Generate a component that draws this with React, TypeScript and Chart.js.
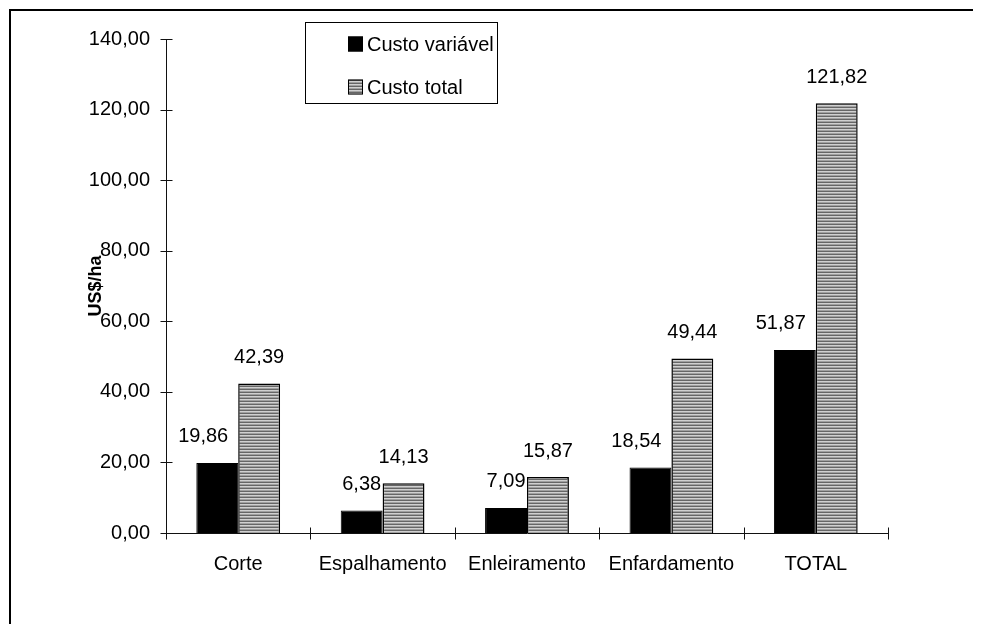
import { useEffect, useRef } from "react";
import { Chart, registerables } from "chart.js";

Chart.register(...registerables);

const categories = ["Corte", "Espalhamento", "Enleiramento", "Enfardamento", "TOTAL"];
const seriesNames = ["Custo variável", "Custo total"];
const custoVariavel = [19.86, 6.38, 7.09, 18.54, 51.87];
const custoTotal = [42.39, 14.13, 15.87, 49.44, 121.82];
const yMin = 0;
const yMax = 140;
const yStep = 20;
const yTitle = "US$/ha";

const FONT = "'Liberation Sans', Arial, Helvetica, sans-serif";
const FONT_SIZE = 20;

const fmt = (v: number) => v.toFixed(2).replace(".", ",");

function stripePattern(ctx: CanvasRenderingContext2D): CanvasPattern {
  const c = document.createElement("canvas");
  c.width = 4;
  c.height = 3;
  const g = c.getContext("2d")!;
  const rows = ["#666666", "#d0d0d0", "#a0a0a0"];
  rows.forEach((col, i) => {
    g.fillStyle = col;
    g.fillRect(0, i, 4, 1);
  });
  return ctx.createPattern(c, "repeat")!;
}

// outer frame (top and left edges of the figure box)
const framePlugin = {
  id: "frame",
  afterDraw(chart: any) {
    const { ctx, width, height } = chart;
    ctx.save();
    ctx.fillStyle = "#000";
    ctx.fillRect(1, 1, width - 1, 2);
    ctx.fillRect(1, 1, 2, height - 1);
    ctx.restore();
  },
};

// axis lines with ticks crossing both sides
const axesPlugin = {
  id: "crossAxes",
  afterDatasetsDraw(chart: any) {
    const { ctx, chartArea } = chart;
    const x = chart.scales.x;
    const y = chart.scales.y;
    const L = 6;
    ctx.save();
    ctx.strokeStyle = "#111";
    ctx.lineWidth = 1;
    ctx.beginPath();
    const ax = Math.round(chartArea.left) + 0.5;
    const ay = Math.round(y.getPixelForValue(0)) + 0.5;
    ctx.moveTo(ax, Math.round(chartArea.top));
    ctx.lineTo(ax, ay);
    ctx.moveTo(ax, ay);
    ctx.lineTo(Math.round(chartArea.right) + 0.5, ay);
    for (let v = yMin; v <= yMax; v += yStep) {
      const py = Math.round(y.getPixelForValue(v)) + 0.5;
      ctx.moveTo(ax - L, py);
      ctx.lineTo(ax + L, py);
    }
    const n = categories.length;
    for (let i = 0; i <= n; i++) {
      const px = Math.round(x.left + ((x.right - x.left) * i) / n) + 0.5;
      ctx.moveTo(px, ay - L);
      ctx.lineTo(px, ay + L);
    }
    ctx.stroke();
    ctx.restore();
  },
};

// value labels above each bar, nudged left when they would touch the neighbouring bar
const labelsPlugin = {
  id: "valueLabels",
  afterDatasetsDraw(chart: any) {
    const { ctx } = chart;
    ctx.save();
    ctx.font = `${FONT_SIZE}px ${FONT}`;
    ctx.fillStyle = "#000";
    ctx.textAlign = "center";
    ctx.textBaseline = "middle";
    const next = chart.getDatasetMeta(1);
    chart.data.datasets.forEach((ds: any, di: number) => {
      const meta = chart.getDatasetMeta(di);
      meta.data.forEach((bar: any, i: number) => {
        const text = fmt(ds.data[i]);
        const w = ctx.measureText(text).width;
        let cx = bar.x;
        const cy = bar.y - 26;
        if (di === 0) {
          const nb = next.data[i];
          const left = nb.x - nb.width / 2;
          const right = cx + w / 2;
          if (right > left && cy + FONT_SIZE / 2 > nb.y) {
            cx -= right - left + 10;
          }
        }
        ctx.fillText(text, cx, cy);
      });
    });
    ctx.restore();
  },
};

// boxed legend inside the plot
const legendPlugin = {
  id: "boxLegend",
  afterDraw(chart: any) {
    const { ctx, chartArea } = chart;
    const bx = chartArea.left + 139;
    const by = chartArea.top - 17;
    const bw = 192;
    const bh = 81;
    ctx.save();
    ctx.fillStyle = "#fff";
    ctx.fillRect(bx, by, bw, bh);
    ctx.strokeStyle = "#000";
    ctx.lineWidth = 1;
    ctx.strokeRect(bx + 0.5, by + 0.5, bw, bh);
    ctx.font = `${FONT_SIZE}px ${FONT}`;
    ctx.textBaseline = "middle";
    ctx.textAlign = "left";
    chart.data.datasets.forEach((ds: any, i: number) => {
      const cy = by + 22 + i * 43;
      const sx = bx + 43;
      const s = 15;
      ctx.fillStyle = ds.backgroundColor;
      ctx.fillRect(sx, cy - s / 2, s, s);
      ctx.strokeStyle = "#000";
      ctx.strokeRect(sx + 0.5, cy - s / 2 + 0.5, s - 1, s - 1);
      ctx.fillStyle = "#000";
      ctx.fillText(ds.label, sx + s + 4, cy + 1);
    });
    ctx.restore();
  },
};

const W = 973;
const H = 616;

export default function App() {
  const ref = useRef<HTMLCanvasElement>(null);

  useEffect(() => {
    document.documentElement.style.overflow = "hidden";
    const canvas = ref.current!;
    const ctx = canvas.getContext("2d")!;
    const chart = new Chart(canvas, {
      type: "bar",
      data: {
        labels: categories,
        datasets: [
          {
            label: seriesNames[0],
            data: custoVariavel,
            backgroundColor: "#000",
            borderColor: "#000",
            borderWidth: 1,
            categoryPercentage: 0.58,
            barPercentage: 1,
          },
          {
            label: seriesNames[1],
            data: custoTotal,
            backgroundColor: stripePattern(ctx) as any,
            borderColor: "#000",
            borderWidth: 1.5,
            categoryPercentage: 0.58,
            barPercentage: 1,
          },
        ],
      },
      options: {
        responsive: false,
        animation: false,
        layout: { padding: { left: 0, top: 31, right: 93, bottom: 0 } },
        plugins: {
          legend: { display: false },
          tooltip: { enabled: false },
        },
        scales: {
          x: {
            grid: { display: false, drawTicks: true, tickLength: 6 },
            border: { display: false },
            ticks: {
              color: "#000",
              padding: 13,
              maxRotation: 0,
              autoSkip: false,
              font: { family: FONT, size: FONT_SIZE },
            },
            afterFit(scale: any) {
              scale.height = 91;
            },
          },
          y: {
            min: yMin,
            max: yMax,
            grid: { display: false, drawTicks: true, tickLength: 6 },
            border: { display: false },
            ticks: {
              stepSize: yStep,
              color: "#000",
              padding: 10,
              font: { family: FONT, size: FONT_SIZE },
              callback: (v: any) => fmt(Number(v)),
            },
            title: {
              display: true,
              text: yTitle,
              color: "#000",
              font: { family: FONT, size: 18, weight: "bold" },
              padding: { top: 77, bottom: 0 },
            },
            afterFit(scale: any) {
              scale.width = 158;
            },
          },
        },
      },
      plugins: [axesPlugin, labelsPlugin, legendPlugin, framePlugin],
    });
    return () => chart.destroy();
  }, []);

  return (
    <div style={{ width: W, height: H }}>
      <canvas ref={ref} width={W} height={H} style={{ display: "block", width: W, height: H }} />
    </div>
  );
}
